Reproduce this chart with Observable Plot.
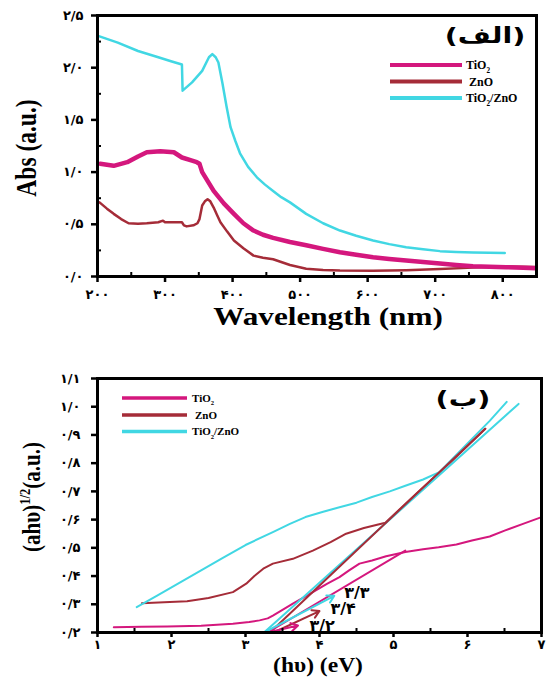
<!DOCTYPE html>
<html><head><meta charset="utf-8">
<script src="https://cdn.jsdelivr.net/npm/d3@7"></script>
<script src="https://cdn.jsdelivr.net/npm/@observablehq/plot@0.6"></script>
<style>
html,body{margin:0;padding:0;background:#fff;}
#chart{width:546px;height:677px;overflow:hidden;}
#chart svg{display:block;overflow:visible;}
</style></head><body>
<div id="chart"></div>
<script>
// ---------------- data ----------------
const seriesNames = ["TiO2", "ZnO", "TiO2/ZnO"];
const seriesColors = ["#d4177d", "#a52c38", "#41d7e3"];

// Panel (الف): absorbance vs wavelength
const wlTiO2 = [204,224,244,260,273,293,313,325,340,347,351,352,355,372,387,402,416,431,445,460,485,509,534,559,583,608,632,657,682,707,731,756,780,805,830,849];
const absTiO2 = [1.08,1.06,1.095,1.15,1.19,1.20,1.19,1.14,1.11,1.095,1.08,1.06,1.0,0.82,0.70,0.60,0.51,0.44,0.40,0.37,0.33,0.30,0.265,0.233,0.208,0.185,0.168,0.153,0.138,0.124,0.11,0.099,0.093,0.089,0.085,0.08];
const wlZnO = [203,214,224,235,246,260,273,290,297,300,315,325,328,332,342,348,351,355,359,363,367,372,377,382,392,402,416,431,445,460,485,509,534,559,608,657,707,756,805,849];
const absZnO = [0.71,0.65,0.60,0.55,0.51,0.505,0.51,0.52,0.535,0.52,0.52,0.52,0.49,0.48,0.49,0.51,0.55,0.68,0.72,0.74,0.72,0.66,0.59,0.52,0.43,0.345,0.27,0.20,0.18,0.165,0.11,0.075,0.062,0.057,0.055,0.06,0.072,0.085,0.095,0.09];
const wlMix = [203,230,260,290,310,325,326,340,355,365,370,375,379,385,391,397,404,411,423,436,448,460,472,485,509,534,559,583,608,632,657,682,707,731,756,780,803];
const absMix = [2.30,2.24,2.16,2.10,2.06,2.03,1.78,1.86,1.97,2.10,2.13,2.10,2.05,1.85,1.63,1.43,1.30,1.18,1.05,0.95,0.88,0.82,0.76,0.71,0.60,0.51,0.44,0.39,0.345,0.31,0.28,0.26,0.243,0.235,0.23,0.228,0.225];
const wlTicks = [200,300,400,500,600,700,800];
const wlMinor = [250,350,450,550,650,750];
const absTicks = [0,0.5,1,1.5,2,2.5];
const absMinor = [0.25,0.75,1.25,1.75,2.25];

// Panel (ب): Tauc plot
const evTiO2 = [1.22,1.6,1.94,2.4,2.83,3.05,3.19,3.3,3.37,3.5,3.64,3.8,3.95,4.1,4.27,4.4,4.54,4.71,4.9,5.16,5.4,5.61,5.85,6.06,6.3,6.51,6.75,7.0];
const taucTiO2 = [0.219,0.22,0.221,0.224,0.231,0.237,0.243,0.25,0.26,0.28,0.302,0.326,0.349,0.372,0.396,0.42,0.444,0.455,0.47,0.485,0.495,0.502,0.512,0.526,0.54,0.562,0.585,0.609];
const evZnO = [1.60,1.9,2.21,2.5,2.83,3.01,3.12,3.24,3.37,3.64,3.91,4.15,4.36,4.6,4.89,5.3,5.8,6.24];
const taucZnO = [0.304,0.307,0.311,0.322,0.343,0.373,0.4,0.426,0.444,0.461,0.49,0.52,0.55,0.57,0.589,0.69,0.81,0.922];
const evMix = [1.53,1.8,2.1,2.4,2.7,3.0,3.37,3.6,3.81,4.05,4.27,4.5,4.71,4.95,5.16,5.4,5.62,6.0,6.3,6.53];
const taucMix = [0.29,0.33,0.375,0.42,0.465,0.51,0.556,0.585,0.609,0.628,0.644,0.66,0.68,0.70,0.72,0.742,0.768,0.87,0.95,1.017];
const fitTiO2X = [3.3,5.16], fitTiO2Y = [0.2,0.49];
const fitZnOX = [3.33,6.24], fitZnOY = [0.2,0.922];
const fitMixX = [3.25,6.69], fitMixY = [0.2,1.01];
// band-gap arrows and labels (TiO2/ZnO, ZnO, TiO2)
const gapLabels = ["3.3","3.4","3.2"];
const gapSeries = [2,1,0];
const gapFromX = [3.25,3.38,3.3], gapFromY = [0.2,0.2,0.2];
const gapToX = [4.2,4.0,3.71], gapToY = [0.33,0.276,0.225];
const gapLabelX = [4.505,4.32,4.035], gapLabelY = [0.34,0.282,0.225];
const evTicks = [1,2,3,4,5,6,7];
const evMinor = [1.5,2.5,3.5,4.5,5.5,6.5];
const taucTicks = [0.2,0.3,0.4,0.5,0.6,0.7,0.8,0.9,1.0,1.1];

// ---------------- helpers ----------------
const fa = s => String(s).replace(/\d/g, d => "۰۱۲۳۴۵۶۷۸۹"[+d]).replace(".", "/");
const rows = (xs, ys) => xs.map((x, i) => ({x, y: ys[i]}));
const tickFont = {fontSize: 13, fontWeight: "bold", fontFamily: "DejaVu Sans"};

function addText(svg, o) {
  const t = svg.append("text")
    .attr("transform", `translate(${o.x},${o.y}) rotate(${o.rotate || 0}) scale(${o.sx || 1},${o.sy || 1})`)
    .attr("text-anchor", o.anchor || "middle")
    .attr("font-family", o.family || "Liberation Serif")
    .attr("font-weight", o.weight || "bold")
    .attr("font-size", o.size)
    .attr("fill", "black");
  (o.parts || [[o.text]]).forEach(p => {
    const ts = t.append("tspan").text(p[0]);
    if (p[1] === "sub") ts.attr("dy", o.size * 0.3).attr("font-size", o.size * 0.6);
    if (p[1] === "sup") ts.attr("dy", -o.size * 0.4).attr("font-size", o.size * 0.6);
    if (p[1] === "back") ts.attr("dy", p[2]);
  });
  return t;
}
const legendParts = [
  [["TiO"], ["2", "sub"]],
  [["ZnO"]],
  [["TiO"], ["2", "sub"], ["/ZnO", "back"]]
];
function addLegend(svg, x1, x2, ys, tx, size, sw) {
  ys.forEach((y, i) => {
    svg.append("line").attr("x1", x1).attr("x2", x2).attr("y1", y).attr("y2", y)
      .attr("stroke", seriesColors[i]).attr("stroke-width", sw);
    const parts = legendParts[i].map(p => p[1] === "back" ? [p[0], "back", -size * 0.3] : p);
    addText(svg, {x: tx + (i === 1 ? 3 : 0), y: y + size * 0.35, parts, size, anchor: "start"});
  });
}

// ---------------- panel (الف) ----------------
const plotA = Plot.plot({
  width: 546, height: 340,
  marginLeft: 97, marginRight: 10, marginTop: 15, marginBottom: 64,
  x: {domain: [200, 850]},
  y: {domain: [0, 2.5]},
  style: {background: "white", fontFamily: "DejaVu Sans"},
  marks: [
    Plot.line(rows(wlZnO, absZnO), {x: "x", y: "y", stroke: seriesColors[1], strokeWidth: 2.5}),
    Plot.line(rows(wlTiO2, absTiO2), {x: "x", y: "y", stroke: seriesColors[0], strokeWidth: 4.5}),
    Plot.line(rows(wlMix, absMix), {x: "x", y: "y", stroke: seriesColors[2], strokeWidth: 2.5}),
    Plot.tickX(wlMinor, {x: d => d, insetTop: 257, stroke: "black", strokeWidth: 2}),
    Plot.tickY(absMinor, {y: d => d, insetRight: 435, stroke: "black", strokeWidth: 2}),
    Plot.axisX(wlTicks, {tickFormat: fa, tickSize: 6, tickPadding: 7, strokeWidth: 2.5, label: null, ...tickFont}),
    Plot.axisY(absTicks, {tickFormat: d => fa(d.toFixed(1)), tickSize: 6, tickPadding: 8, strokeWidth: 2.5, label: null, ...tickFont}),
    Plot.frame({stroke: "black", strokeWidth: 3})
  ]
});

// ---------------- panel (ب) ----------------
const gapRows = gapLabels.map((l, i) => ({
  label: fa(l), x1: gapFromX[i], y1: gapFromY[i], x2: gapToX[i], y2: gapToY[i],
  lx: gapLabelX[i], ly: gapLabelY[i], c: seriesColors[gapSeries[i]]
}));
const plotB = Plot.plot({
  width: 546, height: 337,
  marginLeft: 97, marginRight: 5, marginTop: 38, marginBottom: 45,
  x: {domain: [1, 7]},
  y: {domain: [0.2, 1.1]},
  style: {background: "white", fontFamily: "DejaVu Sans"},
  marks: [
    Plot.line(rows(evTiO2, taucTiO2), {x: "x", y: "y", stroke: seriesColors[0], strokeWidth: 2}),
    Plot.line(rows(evZnO, taucZnO), {x: "x", y: "y", stroke: seriesColors[1], strokeWidth: 2}),
    Plot.line(rows(evMix, taucMix), {x: "x", y: "y", stroke: seriesColors[2], strokeWidth: 2}),
    Plot.line(rows(fitMixX, fitMixY), {x: "x", y: "y", stroke: seriesColors[2], strokeWidth: 2}),
    Plot.line(rows(fitZnOX, fitZnOY), {x: "x", y: "y", stroke: seriesColors[1], strokeWidth: 2}),
    Plot.line(rows(fitTiO2X, fitTiO2Y), {x: "x", y: "y", stroke: seriesColors[0], strokeWidth: 2}),
    Plot.arrow(gapRows, {x1: "x1", y1: "y1", x2: "x2", y2: "y2", stroke: "c", strokeWidth: 2, headLength: 6}),
    Plot.text(gapRows, {x: "lx", y: "ly", text: "label", fontSize: 16, fontWeight: "bold", fontFamily: "DejaVu Sans", fill: "black"}),
    Plot.tickX(evMinor, {x: d => d, insetTop: 250, stroke: "black", strokeWidth: 2}),
    Plot.axisX(evTicks, {tickFormat: fa, tickSize: 5, tickPadding: 2, strokeWidth: 2.5, label: null, ...tickFont}),
    Plot.axisY(taucTicks, {tickFormat: d => fa(d.toFixed(1)), tickSize: 6, tickPadding: 11, strokeWidth: 2.5, label: null, ...tickFont}),
    Plot.frame({stroke: "black", strokeWidth: 3})
  ]
});

const chart = document.getElementById("chart");
chart.append(plotA, plotB);

[plotA, plotB].forEach(p => {
  d3.select(p).selectAll('g[aria-label$="tick label"] text').attr("letter-spacing", 1.5);
});

// annotations panel A
const sA = d3.select(plotA);
addText(sA, {x: 328, y: 325, text: "Wavelength (nm)", size: 26, sx: 1.2});
addText(sA, {x: 36, y: 148, text: "Abs (a.u.)", size: 23.5, rotate: -90, sy: 1.25});
addText(sA, {x: 485, y: 43, text: "(الف)", size: 22, family: "DejaVu Sans", sx: 1.3});
addLegend(sA, 390, 462, [65, 81.5, 98], 466, 12, 4);

// annotations panel B
const sB = d3.select(plotB);
addText(sB, {x: 318, y: 332, text: "(hυ) (eV)", size: 21, sx: 1.12});
addText(sB, {x: 40, y: 157, parts: [["(ahυ)"], ["1/2", "sup"], ["(a.u.)", "back", 21 * 0.4]], size: 21, rotate: -90, sy: 1.2});
addText(sB, {x: 463, y: 66, text: "(ب)", size: 22, family: "DejaVu Sans", sx: 1.3});
addLegend(sB, 122, 187, [58, 75, 91.5], 192, 11, 3.5);
</script>
</body></html>
